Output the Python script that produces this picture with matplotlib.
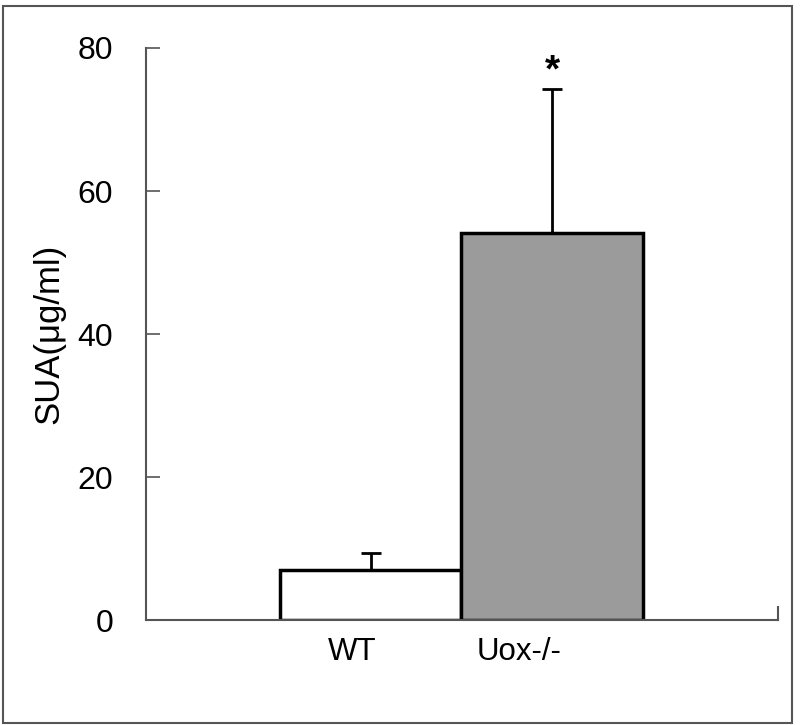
import matplotlib
matplotlib.use("Agg")
import matplotlib.pyplot as plt
from matplotlib.patches import Rectangle

groups = ["WT", "Uox-/-"]
means = [7.0, 54.1]
errs = [2.4, 20.2]
colors = ["white", "#9b9b9b"]
yticks = [0, 20, 40, 60, 80]

plt.rcParams['font.family'] = ['Liberation Sans', 'DejaVu Sans']

fig = plt.figure(figsize=(8, 7.25), dpi=100)
fig.patches.append(Rectangle((0.004, 0.003), 0.986, 0.989, transform=fig.transFigure,
                             fill=False, edgecolor='#555555', lw=1.5))
ax = fig.add_axes([0.1825, 0.1448, 0.79, 0.789])

x = [0, 1]
ax.bar(x, means, width=1.0, color=colors, edgecolor='black', linewidth=2.5, zorder=2)
ax.errorbar(x, means, yerr=[[0, 0], errs], fmt='none', ecolor='black',
            elinewidth=2, capsize=7, capthick=2, zorder=1)
ax.text(1, means[1] + errs[1] + 2.4, "*", ha='center', va='center', fontsize=28,
        fontweight='bold')

ax.set_xlim(-1.24, 2.246)
ax.set_ylim(0, 80)
ax.set_yticks(yticks)
ax.set_xticks([])
ax.tick_params(axis='y', direction='in', length=10, width=1.2, color='#555555',
               labelsize=23, pad=23.5)
for s in ['top', 'right']:
    ax.spines[s].set_visible(False)
for s in ['left', 'bottom']:
    ax.spines[s].set_color('#555555')
    ax.spines[s].set_linewidth(1.5)
ax.plot([2.246, 2.246], [0, 1.8], color='#555555', lw=1.5, clip_on=False)

ax.text(-0.105, -2.4, groups[0], ha='center', va='top', fontsize=22.5)
ax.text(0.818, -2.4, groups[1], ha='center', va='top', fontsize=22.5)
ax.set_ylabel("SUA(μg/ml)", fontsize=25, labelpad=9)

fig.savefig("out.png", dpi=100)
